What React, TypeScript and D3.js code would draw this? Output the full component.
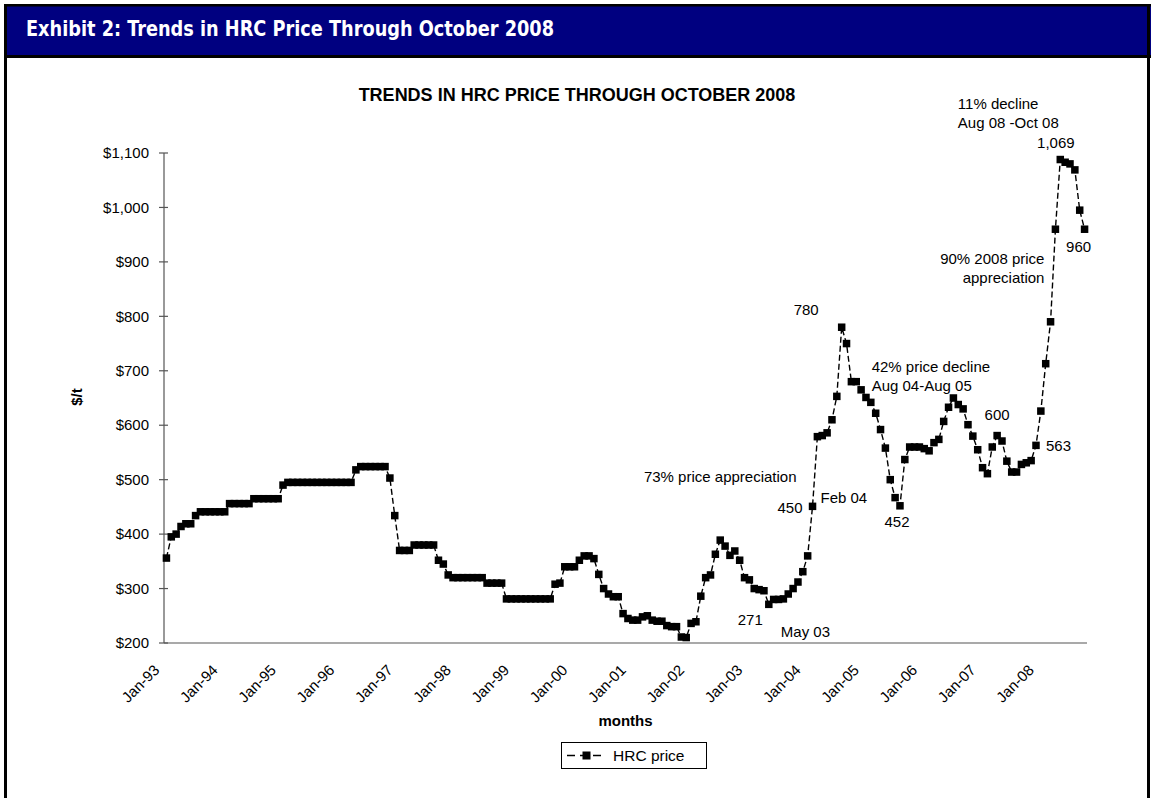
import React from 'react';
import * as d3 from 'd3';

// monthly HRC price, $/t (Jan-93 .. Oct-08)
const monthNames = ['Jan', 'Feb', 'Mar', 'Apr', 'May', 'Jun', 'Jul', 'Aug', 'Sep', 'Oct', 'Nov', 'Dec'];
const yearLabels = ['93', '94', '95', '96', '97', '98', '99', '00', '01', '02', '03', '04', '05', '06', '07', '08'];

const hrc1993 = [356, 395, 400, 414, 419, 419, 434, 441, 441, 441, 441, 441];
const hrc1994 = [441, 456, 456, 456, 456, 456, 465, 465, 465, 465, 465, 465];
const hrc1995 = [490, 495, 495, 495, 495, 495, 495, 495, 495, 495, 495, 495];
const hrc1996 = [495, 495, 495, 518, 524, 524, 524, 524, 524, 524, 503, 434];
const hrc1997 = [370, 370, 370, 380, 380, 380, 380, 380, 352, 345, 325, 320];
const hrc1998 = [320, 320, 320, 320, 320, 320, 310, 310, 310, 310, 281, 281];
const hrc1999 = [281, 281, 281, 281, 281, 281, 281, 281, 308, 310, 340, 340];
const hrc2000 = [340, 352, 360, 360, 355, 326, 300, 290, 285, 285, 254, 245];
const hrc2001 = [242, 242, 248, 250, 242, 240, 240, 232, 230, 230, 211, 210];
const hrc2002 = [236, 239, 286, 320, 325, 363, 389, 378, 361, 369, 352, 320];
const hrc2003 = [316, 300, 298, 296, 271, 280, 280, 281, 290, 300, 312, 331];
const hrc2004 = [360, 451, 579, 581, 586, 610, 653, 780, 750, 680, 680, 665];
const hrc2005 = [651, 642, 622, 592, 558, 500, 467, 452, 537, 560, 560, 560];
const hrc2006 = [557, 553, 568, 574, 607, 633, 650, 638, 630, 601, 580, 555];
const hrc2007 = [522, 511, 560, 581, 571, 534, 514, 514, 528, 531, 535, 563];
const hrc2008 = [626, 713, 790, 960, 1088, 1083, 1080, 1069, 995, 960];

const hrcPrice = [
  ...hrc1993, ...hrc1994, ...hrc1995, ...hrc1996, ...hrc1997, ...hrc1998, ...hrc1999, ...hrc2000,
  ...hrc2001, ...hrc2002, ...hrc2003, ...hrc2004, ...hrc2005, ...hrc2006, ...hrc2007, ...hrc2008,
];
const months = yearLabels.flatMap(yy => monthNames.map(m => m + '-' + yy)).slice(0, hrcPrice.length);
const xTickLabels = yearLabels.map(yy => 'Jan-' + yy);
const yTickValues = [200, 300, 400, 500, 600, 700, 800, 900, 1000, 1100];

const W = 1151;
const H = 798;
const FONT = '"Liberation Sans", Arial, sans-serif';
const margin = { left: 164, right: 1087, top: 153, bottom: 643 };

// call-outs hung on a data point, offsets in px
const notes = [
  { at: 'Feb-04', lines: ['450'], dx: -10, dy: 7, anchor: 'end' },
  { at: 'Feb-04', lines: ['Feb 04'], dx: 8, dy: -3, anchor: 'start' },
  { at: 'Feb-04', lines: ['73% price appreciation'], dx: -16, dy: -24, anchor: 'end' },
  { at: 'May-03', lines: ['271'], dx: -6, dy: 21, anchor: 'end' },
  { at: 'May-03', lines: ['May 03'], dx: 12, dy: 33, anchor: 'start' },
  { at: 'Aug-04', lines: ['780'], dx: -23, dy: -12, anchor: 'end' },
  { at: 'Aug-04', lines: ['42% price decline', 'Aug 04-Aug 05'], dx: 30, dy: 45, anchor: 'start' },
  { at: 'Aug-05', lines: ['452'], dx: -3, dy: 21, anchor: 'middle' },
  { at: 'Apr-07', lines: ['600'], dx: 0, dy: -16, anchor: 'middle' },
  { at: 'Dec-07', lines: ['563'], dx: 10, dy: 6, anchor: 'start' },
  { at: 'Apr-08', lines: ['90% 2008 price', 'appreciation'], dx: -11, dy: 35, anchor: 'end' },
  { at: 'Oct-08', lines: ['960'], dx: -6, dy: 23, anchor: 'middle' },
  { at: 'Aug-08', lines: ['1,069'], dx: -19, dy: -22, anchor: 'middle' },
  { at: 'Aug-08', lines: ['11% decline', 'Aug 08 -Oct 08'], dx: -117, dy: -61, anchor: 'start' },
];

export default function App() {
  const x = d3.scaleBand<string>().domain(months).range([margin.left, margin.right]);
  const y = d3.scaleLinear().domain([200, 1100]).range([margin.bottom, margin.top]);
  const cx = (m: string) => (x(m) as number) + x.bandwidth() / 2;

  const pts: [number, number][] = months.map((m, i) => [cx(m), y(hrcPrice[i])]);
  const path = d3.line()(pts) as string;
  const fmt = (v: number) => '$' + d3.format(',')(v);
  const mk = 7.5; // marker size

  return (
    <div style={{ position: 'absolute', left: 0, top: 0 }}>
      <svg width={W} height={H} style={{ display: 'block', background: '#fff' }} fontFamily={FONT}>
        {/* header band */}
        <rect x={4} y={4} width={1147} height={53} fill="#000080" />
        <rect x={4} y={4} width={1147} height={2.5} fill="#000" />
        <rect x={4} y={55} width={1147} height={3} fill="#000" />
        <rect x={4} y={4} width={3} height={H - 4} fill="#000" />
        <rect x={1147} y={4} width={3} height={H - 4} fill="#000" />
        <text x={26} y={36} fill="#fff" fontFamily='"DejaVu Sans Condensed", "DejaVu Sans", sans-serif'
          fontWeight="bold" fontSize={21} textLength={528} lengthAdjust="spacingAndGlyphs">
          Exhibit 2: Trends in HRC Price Through October 2008
        </text>

        <text x={577} y={101} textAnchor="middle" fontWeight="bold" fontSize={18}>
          TRENDS IN HRC PRICE THROUGH OCTOBER 2008
        </text>

        {/* y axis */}
        <line x1={margin.left} x2={margin.left} y1={margin.top} y2={margin.bottom} stroke="#555" strokeWidth={1.2} />
        {yTickValues.map(v => (
          <g key={v}>
            <line x1={margin.left - 5} x2={margin.left + 4} y1={y(v)} y2={y(v)} stroke="#555" strokeWidth={1.2} />
            <text x={149} y={y(v)} dy="0.35em" textAnchor="end" fontSize={15}>{fmt(v)}</text>
          </g>
        ))}
        <text transform={`translate(82,397) rotate(-90)`} textAnchor="middle" fontWeight="bold" fontSize={15}>$/t</text>

        {/* x axis */}
        <line x1={margin.left} x2={margin.right} y1={margin.bottom} y2={margin.bottom} stroke="#555" strokeWidth={1.2} />
        {xTickLabels.map(t => (
          <text key={t} transform={`translate(${cx(t) - 6},671) rotate(-45)`} textAnchor="end" fontSize={15}>{t}</text>
        ))}
        <text x={(margin.left + margin.right) / 2} y={726} textAnchor="middle" fontWeight="bold" fontSize={15}>months</text>

        {/* series */}
        <path d={path} fill="none" stroke="#000" strokeWidth={1.4} strokeDasharray="6 3" />
        {pts.map((p, i) => (
          <rect key={months[i]} x={p[0] - mk / 2} y={p[1] - mk / 2} width={mk} height={mk} fill="#000" />
        ))}

        {/* call-outs */}
        {notes.map((n, k) => {
          const v = hrcPrice[months.indexOf(n.at)];
          return (
            <text key={k} x={cx(n.at) + n.dx} y={y(v) + n.dy} textAnchor={n.anchor as any} fontSize={15}>
              {n.lines.map((l, j) => (
                <tspan key={j} x={cx(n.at) + n.dx} dy={j === 0 ? 0 : 19}>{l}</tspan>
              ))}
            </text>
          );
        })}

        {/* legend */}
        <rect x={561.5} y={742.5} width={145} height={26} fill="#fff" stroke="#000" strokeWidth={1} />
        <line x1={567} x2={606} y1={755.5} y2={755.5} stroke="#000" strokeWidth={1.4} strokeDasharray="8 5" />
        <rect x={582.5} y={751.5} width={8} height={8} fill="#000" />
        <text x={613} y={761} fontSize={15.5}>HRC price</text>
      </svg>
    </div>
  );
}
